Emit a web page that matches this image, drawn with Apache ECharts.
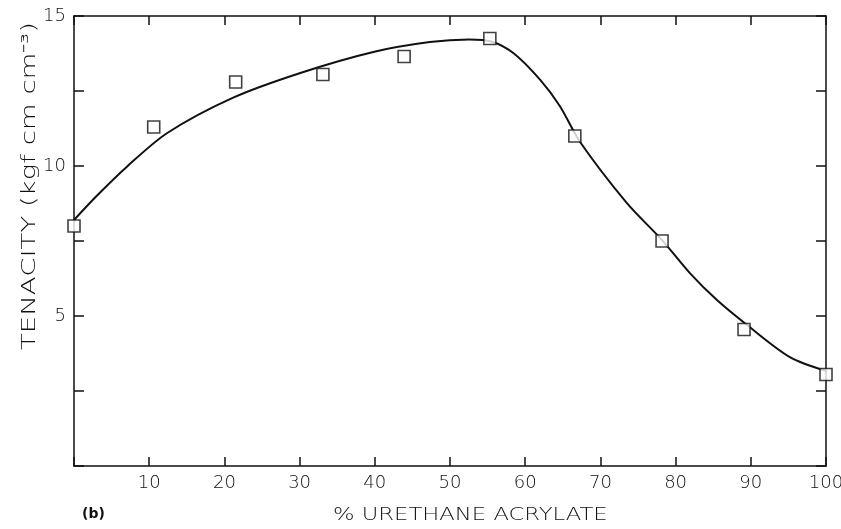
<!DOCTYPE html>
<html>
<head>
<meta charset="utf-8">
<script src="https://cdn.jsdelivr.net/npm/echarts@6/dist/echarts.min.js"></script>
<style>
  html, body { margin: 0; padding: 0; background: #fff; }
  #chart { width: 841px; height: 529px; }
</style>
</head>
<body>
<div id="chart"></div>
<script>
// measured points (squares)
var pctUrethane = [0, 10.6, 21.5, 33.1, 43.9, 55.3, 66.6, 78.2, 89.1, 100];
var tenacity = [8.0, 11.3, 12.8, 13.05, 13.65, 14.25, 11.0, 7.5, 4.55, 3.05];

// hand drawn fit curve
var curveX = [0, 3, 7, 12.4, 21.1, 30.1, 39.8, 47.3, 52.5, 55.5, 58.5, 62.0, 64.6, 67.3, 73.5, 78.2, 81.9, 85.5, 89.5, 95.2, 100];
var curveY = [8.2, 9.0, 9.97, 11.1, 12.27, 13.1, 13.8, 14.13, 14.22, 14.15, 13.75, 12.87, 12.0, 10.8, 8.77, 7.53, 6.43, 5.53, 4.7, 3.63, 3.17];

var xTicks = [10, 20, 30, 40, 50, 60, 70, 80, 90, 100];
var yTicks = [5, 10, 15];

var ink = '#111';
var font = 'DejaVu Sans';

function pairs(xs, ys) {
	var out = [];
	for (var i = 0; i < xs.length; i++) out.push([xs[i], ys[i]]);
	return out;
}

// fresh style objects per axis
function axisLine() {
	return { show: true, onZero: false, lineStyle: { color: ink, width: 1.5 } };
}
function axisTick(len) {
	return { show: true, inside: true, length: len, lineStyle: { color: ink, width: 1.5 } };
}

var myChart = echarts.init(document.getElementById('chart'));

var option = {
	backgroundColor: '#fff',
	animation: false,
	grid: { left: 74, right: 15, top: 16, bottom: 63, outerBoundsMode: 'none' },
	xAxis: [{
		type: 'value', min: 0, max: 100, interval: 10, position: 'bottom',
		splitLine: { show: false },
		axisLine: axisLine(),
		axisTick: axisTick(9),
		axisLabel: {
			color: ink, fontFamily: font, fontSize: 18, fontWeight: 200, margin: 8,
			formatter: function (v) { return xTicks.indexOf(v) >= 0 ? String(v) : ''; }
		}
	}, {
		type: 'value', min: 0, max: 100, interval: 10, position: 'top',
		splitLine: { show: false },
		axisLine: axisLine(),
		axisTick: axisTick(9),
		axisLabel: { show: false }
	}],
	yAxis: [{
		type: 'value', min: 0, max: 15, interval: 2.5, position: 'left',
		splitLine: { show: false },
		axisLine: axisLine(),
		axisTick: axisTick(10),
		axisLabel: {
			color: ink, fontFamily: font, fontSize: 18, fontWeight: 200, margin: 8,
			formatter: function (v) { return yTicks.indexOf(v) >= 0 ? String(v) : ''; }
		}
	}, {
		type: 'value', min: 0, max: 15, interval: 2.5, position: 'right',
		splitLine: { show: false },
		axisLine: axisLine(),
		axisTick: axisTick(10),
		axisLabel: { show: false }
	}],
	graphic: [{
		type: 'text', x: 30, y: 350,
		rotation: Math.PI / 2, scaleX: 1.45,
		style: {
			text: 'TENACITY (kgf cm cm\u207B\u00B3)',
			x: 0, y: 0, align: 'left', verticalAlign: 'middle',
			fill: ink, font: '200 19px "DejaVu Sans"'
		}
	}, {
		type: 'text', x: 333, y: 515, scaleX: 1.26,
		style: {
			text: '% URETHANE ACRYLATE',
			x: 0, y: 0, align: 'left', verticalAlign: 'middle',
			fill: ink, font: '200 18px "DejaVu Sans"'
		}
	}, {
		type: 'text', x: 82, y: 514,
		style: {
			text: '(b)', x: 0, y: 0, align: 'left', verticalAlign: 'middle',
			fill: ink, font: 'bold 14px "DejaVu Sans"'
		}
	}],
	series: [{
		name: 'fit',
		type: 'line',
		smooth: 0.3,
		showSymbol: false,
		lineStyle: { color: ink, width: 2 },
		data: pairs(curveX, curveY),
		z: 2
	}, {
		// drawn on the top/right axis pair (same scales) so those axes render
		name: 'measured',
		type: 'scatter',
		xAxisIndex: 1,
		yAxisIndex: 1,
		symbol: 'rect',
		symbolSize: 12,
		itemStyle: { color: '#fff', borderColor: ink, borderWidth: 1.6 },
		data: pairs(pctUrethane, tenacity),
		z: 3
	}]
};
myChart.setOption(option);
</script>
</body>
</html>
